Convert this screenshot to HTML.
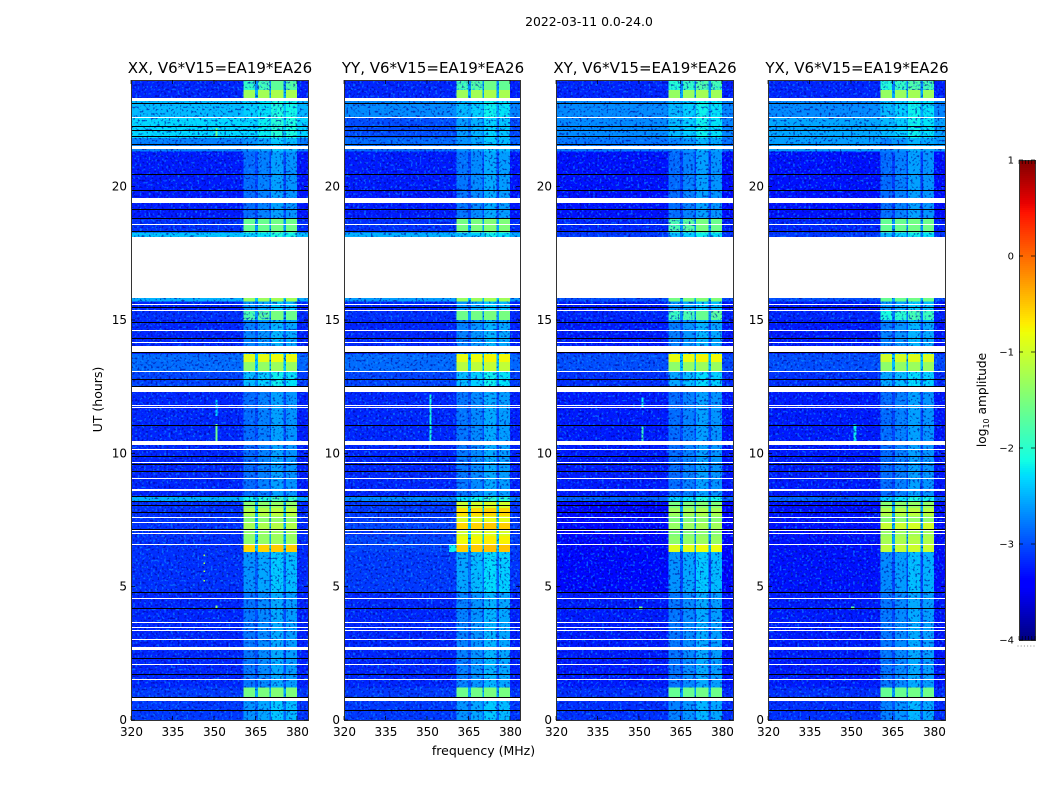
<!DOCTYPE html>
<html lang="en">
<head>
<meta charset="utf-8">
<title>2022-03-11 0.0-24.0</title>
<style>
  html, body { margin: 0; padding: 0; background: #fff; width: 1050px; height: 800px; overflow: hidden; }
  svg { display: block; }
  text { font-family: "DejaVu Sans", "Liberation Sans", sans-serif; fill: #000; }
</style>
</head>
<body>
<svg id="fig" xmlns="http://www.w3.org/2000/svg" width="1050" height="800" viewBox="0 0 1050 800">
  <defs>
    <filter id="speckle-light" x="0" y="0" width="100%" height="100%" color-interpolation-filters="sRGB">
      <feTurbulence type="fractalNoise" baseFrequency="0.45" numOctaves="1" seed="4"/>
      <feColorMatrix type="matrix" values="0 0 0 0 0.05  0 0 0 0 0.6  0 0 0 0 1  7 0 0 0 -3.9"/>
    </filter>
    <filter id="speckle-dark" x="0" y="0" width="100%" height="100%" color-interpolation-filters="sRGB">
      <feTurbulence type="fractalNoise" baseFrequency="0.45" numOctaves="1" seed="11"/>
      <feColorMatrix type="matrix" values="0 0 0 0 0  0 0 0 0 0  0 0 0 0 0.6  7 0 0 0 -3.9"/>
    </filter>
  </defs>
  <rect x="0" y="0" width="1050" height="800" fill="#fff"/>
  <text x="589" y="26" font-size="12.4" text-anchor="middle">2022-03-11 0.0-24.0</text>
  <text x="483.5" y="755" font-size="12.5" text-anchor="middle">frequency (MHz)</text>
  <text x="0" y="0" font-size="12.5" text-anchor="middle" transform="translate(102 399.5) rotate(-90)">UT (hours)</text>
  <text x="0" y="0" font-size="12.2" text-anchor="middle" transform="translate(986 400) rotate(-90)">log<tspan dy="3" font-size="8">10</tspan><tspan dy="-3"> amplitude</tspan></text>
  <g id="panels"></g>
  <g id="colorbar"></g>
</svg>
<script>
// ---- Chart data (levels are log10 amplitude, times in UT hours, frequency in MHz) ----
const panelTitles = ["XX, V6*V15=EA19*EA26", "YY, V6*V15=EA19*EA26", "XY, V6*V15=EA19*EA26", "YX, V6*V15=EA19*EA26"];
const freqTicks = [320, 335, 350, 365, 380];
const utTicks = [0, 5, 10, 15, 20];
const levelTicks = [1, 0, -1, -2, -3, -4];

const segStart = [0, 0.825, 1.22, 4.8, 6.3, 6.56, 6.9, 7.16, 7.39, 7.65, 7.95, 8.18, 8.36, 12.3, 13.05, 13.43, 13.73, 15, 15.34, 15.7, 18.11, 18.28, 18.83, 21.32, 21.83, 22.58, 23.21, 23.63];
const segEnd = [0.825, 1.22, 4.8, 6.3, 6.56, 6.9, 7.16, 7.39, 7.65, 7.95, 8.18, 8.36, 12.3, 13.05, 13.43, 13.73, 15, 15.34, 15.7, 15.82, 18.28, 18.83, 21.32, 21.83, 22.58, 23.21, 23.63, 24];

const bgXX = [-3.1, -3.1, -3.2, -3.15, -3.15, -3.15, -3.15, -3.15, -3.15, -3.15, -3.15, -2.5, -3.2, -3.05, -2.85, -2.85, -3.2, -3.15, -3.2, -2.5, -2.4, -3.15, -3.25, -2.75, -2.3, -2.45, -3.2, -3.2];
const rfiXX = [-2.5, -1.5, -2.65, -2.5, -0.55, -1.35, -1.35, -1.2, -1.4, -1.15, -1.4, -2.0, -2.7, -2.3, -1.35, -0.85, -2.6, -1.65, -2.5, -1.3, -2.2, -1.6, -2.7, -2.5, -2.15, -2.2, -1.25, -1.8];
const bgYY = [-3.1, -3.1, -3.2, -3.1, -3.05, -3.05, -3.1, -3.05, -3.1, -3.1, -3.1, -2.7, -3.2, -3.05, -2.85, -2.85, -3.2, -3.15, -3.2, -2.6, -2.5, -3.15, -3.25, -2.85, -3.0, -2.7, -3.2, -3.2];
const rfiYY = [-2.5, -1.55, -2.6, -2.4, -0.5, -0.75, -0.95, -0.55, -0.9, -0.6, -1.0, -2.1, -2.65, -2.3, -1.1, -0.8, -2.6, -1.55, -2.5, -1.3, -2.3, -1.5, -2.65, -2.5, -2.45, -2.3, -1.25, -1.7];
const bgXY = [-3.15, -3.15, -3.25, -3.35, -3.35, -3.35, -3.35, -3.35, -3.35, -3.35, -3.35, -2.9, -3.25, -3.15, -3.0, -3.0, -3.25, -3.2, -3.25, -3.0, -3.1, -3.2, -3.3, -2.8, -2.7, -2.7, -3.2, -3.2];
const rfiXY = [-2.6, -1.6, -2.65, -2.5, -0.85, -1.35, -1.45, -1.3, -1.45, -1.25, -1.5, -2.2, -2.7, -2.4, -1.35, -0.8, -2.6, -1.75, -2.5, -1.5, -2.3, -1.65, -2.7, -2.6, -2.3, -2.3, -1.3, -1.9];
const bgYX = [-3.15, -3.15, -3.25, -3.3, -3.3, -3.3, -3.3, -3.3, -3.3, -3.3, -3.3, -2.9, -3.25, -3.15, -3.0, -3.0, -3.25, -3.2, -3.25, -3.0, -3.1, -3.2, -3.3, -2.6, -2.55, -2.7, -3.2, -3.2];
const rfiYX = [-2.6, -1.6, -2.65, -2.55, -1.05, -1.2, -1.3, -1.0, -1.4, -1.15, -1.4, -2.2, -2.7, -2.4, -1.35, -0.95, -2.6, -1.95, -2.5, -1.6, -2.3, -1.6, -2.7, -2.6, -2.3, -2.3, -1.3, -1.9];

const bandStart = [360.7, 365.9, 370.7, 376];
const bandEnd = [364.9, 370, 375.2, 380];
const bandOffset = [-0.15, -0.05, 0.12, 0.05];

const flagStart = [23.21, 22.56, 21.4, 19.4, 18.56, 15.82, 15.56, 15.34, 14.59, 14.14, 13.81, 13.05, 12.31, 11.78, 11.69, 10.31, 10.13, 9.64, 9.04, 8.59, 7.57, 7.39, 7.12, 7.0, 6.58, 4.56, 3.64, 3.46, 3.36, 3.0, 2.63, 2.09, 1.51, 0.7];
const flagEnd = [23.34, 22.6, 21.53, 19.58, 18.6, 18.11, 15.6, 15.37, 14.63, 14.18, 14.03, 13.09, 12.49, 11.81, 11.72, 10.46, 10.16, 9.68, 9.08, 8.66, 7.6, 7.41, 7.14, 7.02, 6.6, 4.58, 3.67, 3.48, 3.38, 3.03, 2.74, 2.11, 1.53, 0.825];
const dropStart = [23.12, 22.24, 22.09, 21.85, 21.58, 20.45, 19.85, 19.13, 18.79, 18.29, 15.46, 14.88, 14.29, 13.77, 12.76, 12.5, 11.04, 9.88, 9.59, 9.33, 8.39, 8.19, 8.04, 7.78, 7.15, 4.78, 4.19, 2.29, 1.7, 0.84, 0.36];
const dropEnd = [23.15, 22.27, 22.11, 21.89, 21.6, 20.48, 19.88, 19.15, 18.82, 18.32, 15.5, 14.92, 14.31, 13.81, 12.79, 12.53, 11.07, 9.9, 9.61, 9.35, 8.41, 8.21, 8.06, 7.8, 7.17, 4.81, 4.21, 2.32, 1.72, 0.87, 0.39];

const hotPanel = [0, 0, 0, 0, 0, 0, 0, 0, 1, 1, 2, 2, 2, 3, 3];
const hotFreqStart = [350.5, 350.5, 350.5, 346.3, 346.3, 346.3, 346.3, 350.5, 351, 358, 351, 351, 350, 351, 350];
const hotFreqEnd = [351.3, 351.3, 351.2, 346.8, 346.8, 346.8, 346.8, 351.2, 351.6, 360.7, 351.6, 351.6, 351.2, 352, 351.2];
const hotStart = [10.46, 11.4, 4.2, 5.2, 5.55, 5.85, 6.15, 21.85, 10.46, 6.3, 10.46, 11.7, 4.15, 10.46, 4.15];
const hotEnd = [11.1, 12.0, 4.3, 5.25, 5.6, 5.9, 6.2, 22.2, 12.2, 6.6, 11.0, 12.1, 4.25, 11.1, 4.25];
const hotLevel = [-1.6, -2.3, -1.5, -1.2, -1.2, -1.2, -1.2, -1.6, -2.1, -2.2, -1.9, -2.2, -1.6, -2.2, -1.7];

// ---- Layout and scales ----
const SVGNS = "http://www.w3.org/2000/svg";
const panelLeft = [131, 344, 556, 768];
const panelSpan = 177;
const panelFrameWidth = [177, 176, 177, 177];
const plotTop = 80, plotBottom = 720;
const freqMin = 320, freqMax = 384, utMax = 24;
const cbLeft = 1019, cbRight = 1035, cbTop = 160, cbBottom = 640, levelMin = -4, levelMax = 1;
const smoothAbove = -1.7;
const bgLevels = [bgXX, bgYY, bgXY, bgYX];
const rfiLevels = [rfiXX, rfiYY, rfiXY, rfiYX];

function xScale(p, f) { return panelLeft[p] + (f - freqMin) / (freqMax - freqMin) * panelSpan; }
function yScale(h) { return plotBottom - h / utMax * (plotBottom - plotTop); }
function cbScale(v) { return cbBottom - (v - levelMin) / (levelMax - levelMin) * (cbBottom - cbTop); }

function lerpStops(stops, t) {
  for (let i = 1; i < stops.length; i++) {
    if (t <= stops[i][0]) {
      const a = stops[i - 1], b = stops[i];
      return a[1] + (b[1] - a[1]) * (t - a[0]) / (b[0] - a[0]);
    }
  }
  return stops[stops.length - 1][1];
}
const jetR = [[0, 0], [0.35, 0], [0.66, 1], [0.89, 1], [1, 0.5]];
const jetG = [[0, 0], [0.125, 0], [0.375, 1], [0.64, 1], [0.91, 0], [1, 0]];
const jetB = [[0, 0.5], [0.11, 1], [0.34, 1], [0.65, 0], [1, 0]];
function colorFor(level) {
  const t = Math.min(1, Math.max(0, (level - levelMin) / (levelMax - levelMin)));
  const c = [jetR, jetG, jetB].map(function (s) { return Math.round(lerpStops(s, t) * 255); });
  return "rgb(" + c.join(",") + ")";
}
function mk(tag, attrs, parent) {
  const el = document.createElementNS(SVGNS, tag);
  for (const k in attrs) el.setAttribute(k, attrs[k]);
  parent.appendChild(el);
  return el;
}
function labelText(v) { return String(v).replace("-", "\u2212"); }

// ---- Panels ----
const panelsRoot = document.getElementById("panels");
panelTitles.forEach(function (title, p) {
  const g = mk("g", {}, panelsRoot);
  
  
  const L = panelLeft[p], W = panelFrameWidth[p], R = L + W;

  const clipId = "clip-" + p;
  const clip = mk("clipPath", { id: clipId }, g);
  mk("rect", { x: L, y: plotTop, width: W, height: plotBottom - plotTop }, clip);

  const cells = mk("g", { "shape-rendering": "crispEdges", "clip-path": "url(#" + clipId + ")" }, g);
  
  

  // speckle texture sits between the faint cells and the strong (smooth) ones
  const speckleLight = mk("rect", { x: L, y: plotTop, width: W, height: plotBottom - plotTop, filter: "url(#speckle-light)", opacity: "0.6", "clip-path": "url(#" + clipId + ")" }, g);
  
  
  const speckleDark = mk("rect", { x: L, y: plotTop, width: W, height: plotBottom - plotTop, filter: "url(#speckle-dark)", opacity: "0.6", "clip-path": "url(#" + clipId + ")" }, g);
  
  

  const strongCells = mk("g", { "shape-rendering": "crispEdges", "clip-path": "url(#" + clipId + ")" }, g);
  
  

  function cell(f0, f1, h0, h1, level) {
    const x0 = xScale(p, f0), x1 = xScale(p, f1), y0 = yScale(h1), y1 = yScale(h0);
    const target = level > smoothAbove ? strongCells : cells;
    const r = mk("rect", { x: x0, y: y0, width: x1 - x0, height: y1 - y0, fill: colorFor(level) }, target);
    
    
  }

  segStart.forEach(function (s0, i) {
    const s1 = segEnd[i], bg = bgLevels[p][i], rfi = rfiLevels[p][i];
    cell(freqMin, bandStart[0], s0, s1, bg);
    bandStart.forEach(function (b0, b) {
      cell(b0, bandEnd[b], s0, s1, rfi + bandOffset[b] * (rfi < -1.6 ? 1 : 0.3));
      const next = b < bandStart.length - 1 ? bandStart[b + 1] : null;
      if (next !== null) cell(bandEnd[b], next, s0, s1, Math.min(bg + (rfi - bg) * 0.35, -2.4));
    });
    cell(bandEnd[bandEnd.length - 1], freqMax, s0, s1, bg - 0.03);
  });

  hotPanel.forEach(function (hp, i) {
    if (hp === p) cell(hotFreqStart[i], hotFreqEnd[i], hotStart[i], hotEnd[i], hotLevel[i]);
  });

  const overlays = mk("g", { "shape-rendering": "crispEdges" }, g);
  
  
  function row(h0, h1, color) {
    const y0 = Math.round(yScale(h1));
    const ht = Math.max(1, Math.round(yScale(h0)) - y0);
    const r = mk("rect", { x: L, y: y0, width: W, height: ht, fill: color }, overlays);
    
    
  }
  dropStart.forEach(function (h0, i) { row(h0, dropEnd[i], "#000"); });
  flagStart.forEach(function (h0, i) { row(h0, flagEnd[i], "#fff"); });

  // frame
  const frame = mk("rect", { x: L + 0.5, y: plotTop + 0.5, width: W, height: plotBottom - plotTop, fill: "none", stroke: "#333", "stroke-width": "1.1", "shape-rendering": "crispEdges" }, g);
  
  

  // ticks & labels
  freqTicks.forEach(function (f) {
    const x = xScale(p, f);
    mk("line", { x1: x, x2: x, y1: plotBottom, y2: plotBottom - 4, stroke: "#000", "stroke-width": "0.7" }, g);
    mk("line", { x1: x, x2: x, y1: plotTop, y2: plotTop + 4, stroke: "#000", "stroke-width": "0.7" }, g);
    const t = mk("text", { x: x + 0.5, y: 736, "font-size": "12", "text-anchor": "middle" }, g);
    
    
    t.textContent = f;
  });
  utTicks.forEach(function (h) {
    const y = yScale(h);
    mk("line", { x1: L, x2: L + 4, y1: y, y2: y, stroke: "#000", "stroke-width": "0.7" }, g);
    mk("line", { x1: R, x2: R - 4, y1: y, y2: y, stroke: "#000", "stroke-width": "0.7" }, g);
    const t = mk("text", { x: L - 4, y: y + 4, "font-size": "12", "text-anchor": "end" }, g);
    
    
    t.textContent = h;
  });

  const tt = mk("text", { x: L + panelSpan / 2 + 0.5, y: 73, "font-size": "15", "text-anchor": "middle" }, g);
  
  
  tt.textContent = title;
});

// ---- Colorbar ----
const cb = document.getElementById("colorbar");
const ramp = mk("g", { "shape-rendering": "crispEdges" }, cb);


for (let y = cbTop; y < cbBottom; y += 2) {
  const level = levelMin + (cbBottom - y - 1) / (cbBottom - cbTop) * (levelMax - levelMin);
  const r = mk("rect", { x: cbLeft, y: y, width: cbRight - cbLeft, height: 2, fill: colorFor(level) }, ramp);
  
  
}
const cbFrame = mk("rect", { x: cbLeft + 0.5, y: cbTop + 0.5, width: cbRight - cbLeft, height: cbBottom - cbTop, fill: "none", stroke: "#333", "stroke-width": "1.1", "shape-rendering": "crispEdges" }, cb);


levelTicks.forEach(function (v) {
  const y = cbScale(v);
  mk("line", { x1: cbLeft, x2: cbLeft + 4, y1: y, y2: y, stroke: "#000", "stroke-width": "0.7" }, cb);
  mk("line", { x1: cbRight, x2: cbRight - 4, y1: y, y2: y, stroke: "#000", "stroke-width": "0.7" }, cb);
  const t = mk("text", { x: cbLeft - 5, y: y + 3.5, "font-size": "10", "text-anchor": "end" }, cb);
  
  
  t.textContent = labelText(v);
});
for (let i = 0; i < 6; i++) {
  const x = cbLeft + i * (cbRight - cbLeft) / 5;
  mk("line", { x1: x, x2: x, y1: cbTop, y2: cbTop + 4, stroke: "#000", "stroke-width": "0.6" }, cb);
  mk("line", { x1: x, x2: x, y1: cbBottom, y2: cbBottom - 4, stroke: "#000", "stroke-width": "0.6" }, cb);
  const d = mk("rect", { x: x - 1.5, y: 645.5, width: 1, height: 1, fill: "#888" }, cb);
  
  
}
</script>
</body>
</html>
